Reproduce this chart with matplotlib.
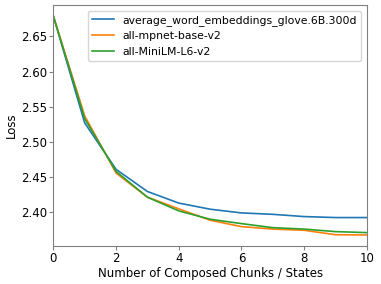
import matplotlib
matplotlib.use('Agg')
import matplotlib.pyplot as plt

# composed chunks / states
x = [0, 1, 2, 3, 4, 5, 6, 7, 8, 9, 10]

glove = [2.679, 2.527, 2.461, 2.4295, 2.413, 2.4043, 2.399, 2.397, 2.3938, 2.3924, 2.3924]
mpnet = [2.679, 2.537, 2.4557, 2.4214, 2.4048, 2.3886, 2.3795, 2.376, 2.3743, 2.368, 2.3676]
minilm = [2.679, 2.533, 2.458, 2.4214, 2.4019, 2.390, 2.3838, 2.378, 2.376, 2.3724, 2.371]

labels = ['average_word_embeddings_glove.6B.300d', 'all-mpnet-base-v2', 'all-MiniLM-L6-v2']

plt.rcParams['font.size'] = 8.5

fig, ax = plt.subplots(figsize=(3.81, 2.84), dpi=100)
ax.plot(x, glove, color='#1f77b4', lw=1.2, label=labels[0])
ax.plot(x, mpnet, color='#ff7f0e', lw=1.2, label=labels[1])
ax.plot(x, minilm, color='#2ca02c', lw=1.2, label=labels[2])
ax.set_xlim(0, 10)
ax.set_xlabel('Number of Composed Chunks / States', labelpad=1)
ax.set_ylabel('Loss', labelpad=2)
for s in ax.spines.values():
    s.set_color('gray')
ax.tick_params(color='gray', length=3, pad=1.5)
ax.legend(loc='upper right', fontsize=7.8)
plt.subplots_adjust(left=0.14, right=0.963, top=0.982, bottom=0.134)
plt.savefig('out.png')
